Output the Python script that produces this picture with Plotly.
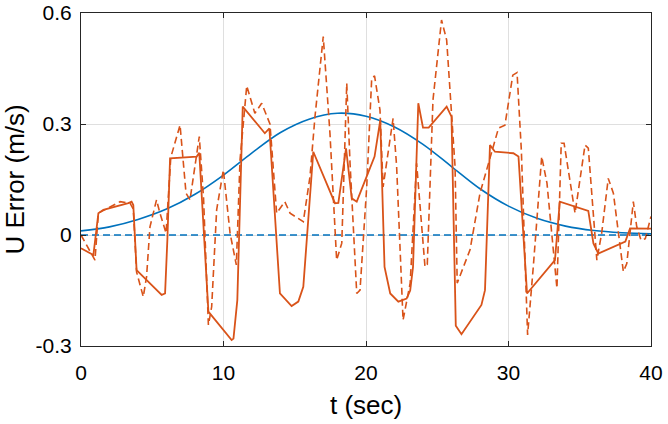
import plotly.graph_objects as go

# Blue reference curve
t_ref = [0, 2, 4, 6, 8, 10, 12, 14, 16, 18, 20, 22, 24, 26, 28, 30, 32, 34, 36, 38, 40]
u_ref = [0.011, 0.022, 0.042, 0.070, 0.110, 0.162, 0.222, 0.277, 0.313, 0.329, 0.321, 0.292, 0.245, 0.185, 0.125,
         0.078, 0.045, 0.024, 0.012, 0.006, 0.003]

# Solid orange
t_sol = [0, 0.87, 1.22, 1.57, 3.32, 3.55, 3.67, 3.9, 5.66, 5.9, 6.06, 6.25, 8.12, 8.3, 8.94, 10.57, 10.7, 10.97, 11.35,
         12.9, 13.22, 13.6, 13.96, 14.78, 15.25, 15.6, 16.3, 17.82, 18.06, 18.6, 19.0, 19.35, 20.6, 21.0, 21.3, 21.7,
         22.27, 22.85, 23.1, 23.3, 23.67, 24.0, 24.4, 25.66, 26.0, 26.3, 26.7, 28.1, 28.35, 28.7, 29.05, 30.34, 30.7, 31.3,
         33.26, 33.6, 35.6, 35.96, 36.3, 38.2, 38.53, 40]
u_sol = [-0.036, -0.054, 0.059, 0.068, 0.086, 0.09, 0.081, -0.095, -0.162, -0.158, -0.014, 0.207, 0.212, 0.222, -0.207, -0.284, -0.28, -0.176, 0.347,
         0.275, 0.288, 0.059, -0.158, -0.192, -0.18, -0.14, 0.225, 0.086, 0.087, 0.234, 0.099, 0.09, 0.212, 0.31, -0.086, -0.158,
         -0.18, -0.172, -0.15, -0.086, 0.356, 0.29, 0.29, 0.347, 0.32, -0.245, -0.268, -0.189, -0.149, 0.243, 0.225, 0.221, 0.212, -0.158,
         -0.068, 0.09, 0.065, -0.023, -0.05, -0.018, 0.018, 0.017]

# Dashed orange
t_dash = [0, 0.98, 1.22, 2.74, 3.44, 3.67, 3.9, 4.37, 4.6, 4.84, 5.3, 5.54, 5.97, 6.3, 6.95, 7.37, 7.65, 8.3, 8.6, 8.94,
          9.17, 9.52, 9.99, 10.46, 10.9, 11.16, 11.63, 12.2, 12.68, 13.26, 13.73, 14.3, 14.67, 15.6, 16.07, 16.42, 17.0,
          17.47, 17.94, 18.3, 18.65, 18.88, 19.35, 19.58, 20.05, 20.4, 20.6, 20.98, 21.2, 21.9, 22.15, 22.6, 23.1, 23.55,
          24.14, 24.3, 24.7, 25.3, 25.66, 26.25, 26.4, 27.3, 28.0, 29.3, 29.75, 30.3, 30.6, 30.9, 31.34, 31.74,
          32.33, 32.7, 33.4, 33.7, 33.9, 34.67, 35.37, 35.6, 36.2, 36.54, 37.0, 37.36, 38.06, 38.3, 38.76, 39.0, 39.3,
          39.6, 40]
u_dash = [0.0, -0.068, 0.059, 0.09, 0.086, 0.07, -0.1, -0.167, -0.113, 0.022, 0.095, 0.059, 0.005, 0.21, 0.297, 0.113, 0.095, 0.266, 0.1, -0.243,
          -0.194, 0.068, 0.176, 0.005, -0.081, 0.203, 0.403, 0.329, 0.356, 0.3, 0.059, 0.09, 0.059, 0.036, 0.158, 0.32, 0.536,
          0.275, -0.068, -0.022, 0.41, 0.194, -0.158, -0.149, 0.13, 0.423, 0.43, 0.338, 0.13, 0.315, 0.185, -0.23, -0.13, 0.194,
          -0.086, -0.08, 0.365, 0.581, 0.527, 0.185, -0.13, -0.04, 0.113, 0.289, 0.297, 0.432, 0.439, 0.23, -0.27, -0.086,
          0.212, 0.14, -0.144, 0.248, 0.248, 0.059, 0.243, 0.235, -0.068, 0.005, 0.153, 0.113, -0.099, -0.077, 0.09, 0.022, -0.014,
          -0.01, 0.05]

t_zero = [0, 40]
u_zero = [0, 0]

x_ticks = [0, 10, 20, 30, 40]
y_ticks = [-0.3, 0, 0.3, 0.6]
y_ticktext = ["-0.3", "0", "0.3", "0.6"]

blue = "#0072BD"
orange = "#D95319"
font_family = "Liberation Sans, Arial, sans-serif"
dash_style = "7px,4px"

fig = go.Figure()
fig.add_trace(go.Scatter(x=t_zero, y=u_zero, mode="lines", line=dict(color=blue, width=1.6, dash=dash_style)))
fig.add_trace(go.Scatter(x=t_ref, y=u_ref, mode="lines", line=dict(color=blue, width=1.6, shape="spline")))
fig.add_trace(go.Scatter(x=t_dash, y=u_dash, mode="lines", line=dict(color=orange, width=1.6, dash=dash_style)))
fig.add_trace(go.Scatter(x=t_sol, y=u_sol, mode="lines", line=dict(color=orange, width=1.8)))

axis_common = dict(
    showline=True, linecolor="#262626", linewidth=1, mirror="ticks",
    ticks="inside", ticklen=5, tickcolor="#262626",
    showgrid=True, gridcolor="#DFDFDF", gridwidth=1,
    zeroline=False, automargin=False,
    tickfont=dict(family=font_family, size=21, color="#000000"),
)

fig.update_layout(
    width=668, height=424,
    margin=dict(l=81, r=17, t=13, b=78),
    paper_bgcolor="white", plot_bgcolor="white",
    showlegend=False,
    xaxis=dict(range=[0, 40], tickvals=x_ticks, ticktext=[str(v) for v in x_ticks],
               ticklabelstandoff=8, **axis_common),
    yaxis=dict(range=[-0.3, 0.6], tickvals=y_ticks, ticktext=y_ticktext,
               ticklabelstandoff=4, **axis_common),
    annotations=[
        dict(text="t (sec)", xref="paper", yref="paper", x=0.5, y=-0.177, xanchor="center", yanchor="middle",
             showarrow=False, font=dict(family=font_family, size=26, color="#000000")),
        dict(text="U Error (m/s)", xref="paper", yref="paper", x=-0.1175, y=0.5, xanchor="center", yanchor="middle",
             textangle=-90, showarrow=False, font=dict(family=font_family, size=26, color="#000000")),
    ],
)

fig.write_html("out.html")
